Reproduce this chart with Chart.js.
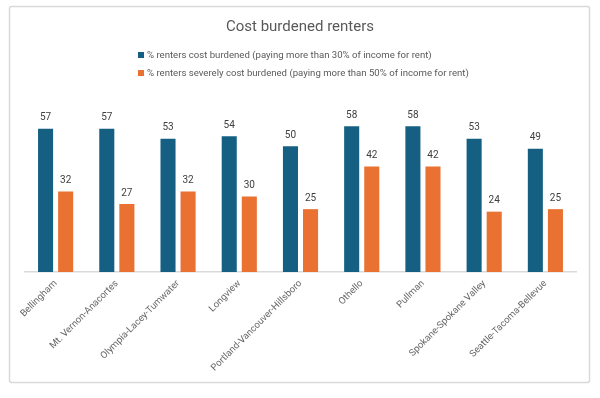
<!DOCTYPE html>
<html>
<head>
<meta charset="utf-8">
<script src="https://cdn.jsdelivr.net/npm/chart.js@4/dist/chart.umd.min.js"></script>
<style>
html,body{margin:0;padding:0;background:#fff;}
#wrap{position:relative;width:600px;height:398px;}
</style>
</head>
<body>
<div id="wrap"><canvas id="c" width="600" height="398"></canvas></div>
<script>
const chartTitle = 'Cost burdened renters';
const categories = ['Bellingham','Mt. Vernon-Anacortes','Olympia-Lacey-Tumwater','Longview','Portland-Vancouver-Hillsboro','Othello','Pullman','Spokane-Spokane Valley','Seattle-Tacoma-Bellevue'];
const seriesNames = ['% renters cost burdened (paying more than 30% of income for rent)','% renters severely cost burdened (paying more than 50% of income for rent)'];
const costBurdened = [57,57,53,54,50,58,58,53,49];
const severelyBurdened = [32,27,32,30,25,42,42,24,25];
const colors = ['#156082','#E97132'];

const FONT = 'Roboto, "Liberation Sans", sans-serif';
const TXT = '#595959';

const decor = {
  id:'decor',
  beforeDraw(chart){
    const ctx = chart.ctx;
    ctx.save();
    ctx.strokeStyle = '#d9d9d9';
    ctx.lineWidth = 1.5;
    ctx.beginPath();
    if (ctx.roundRect) ctx.roundRect(9.5,6.5,580,376,2); else ctx.rect(9.5,6.5,580,376);
    ctx.stroke();
    // title
    ctx.fillStyle = TXT;
    ctx.font = '15px ' + FONT;
    ctx.textAlign = 'center';
    ctx.textBaseline = 'middle';
    ctx.fillText(chartTitle, 300, 27);
    // legend
    ctx.font = '9.6px ' + FONT;
    ctx.textAlign = 'left';
    const widths = chart.data.datasets.map(d => ctx.measureText(d.label).width);
    const blockW = 9 + Math.max(...widths);
    const x0 = Math.round(303 - blockW/2);
    chart.data.datasets.forEach((d,i) => {
      const y = 55 + i*18;
      ctx.fillStyle = d.backgroundColor;
      ctx.fillRect(x0, y-3, 6, 6);
      ctx.fillStyle = TXT;
      ctx.fillText(d.label, x0+9, y+0.5);
    });
    ctx.restore();
  },
  afterDatasetsDraw(chart){
    const ctx = chart.ctx;
    ctx.save();
    ctx.font = '10px ' + FONT;
    ctx.fillStyle = '#404040';
    ctx.textAlign = 'center';
    ctx.textBaseline = 'middle';
    chart.data.datasets.forEach((d,i) => {
      const meta = chart.getDatasetMeta(i);
      meta.data.forEach((bar,j) => {
        ctx.fillText(String(d.data[j]), bar.x, bar.y - 11);
      });
    });
    ctx.restore();
  }
};

new Chart(document.getElementById('c'), {
  type:'bar',
  data:{
    labels: categories,
    datasets:[
      {label: seriesNames[0], data: costBurdened, backgroundColor: colors[0], categoryPercentage:0.656, barPercentage:0.75},
      {label: seriesNames[1], data: severelyBurdened, backgroundColor: colors[1], categoryPercentage:0.656, barPercentage:0.75}
    ]
  },
  options:{
    responsive:false,
    animation:false,
    layout:{padding:{top:96,left:25,right:24,bottom:0}},
    plugins:{legend:{display:false},title:{display:false},tooltip:{enabled:false}},
    scales:{
      y:{display:false,min:0,max:70},
      x:{
        grid:{display:false, drawTicks:false},
        border:{display:true,color:'#d9d9d9',width:1.5},
        ticks:{color:'#666666',font:{family:FONT,size:9.5},minRotation:45,maxRotation:45,padding:6,autoSkip:false},
        afterFit(s){ s.height = 126; }
      }
    }
  },
  plugins:[decor]
});
</script>
</body>
</html>
